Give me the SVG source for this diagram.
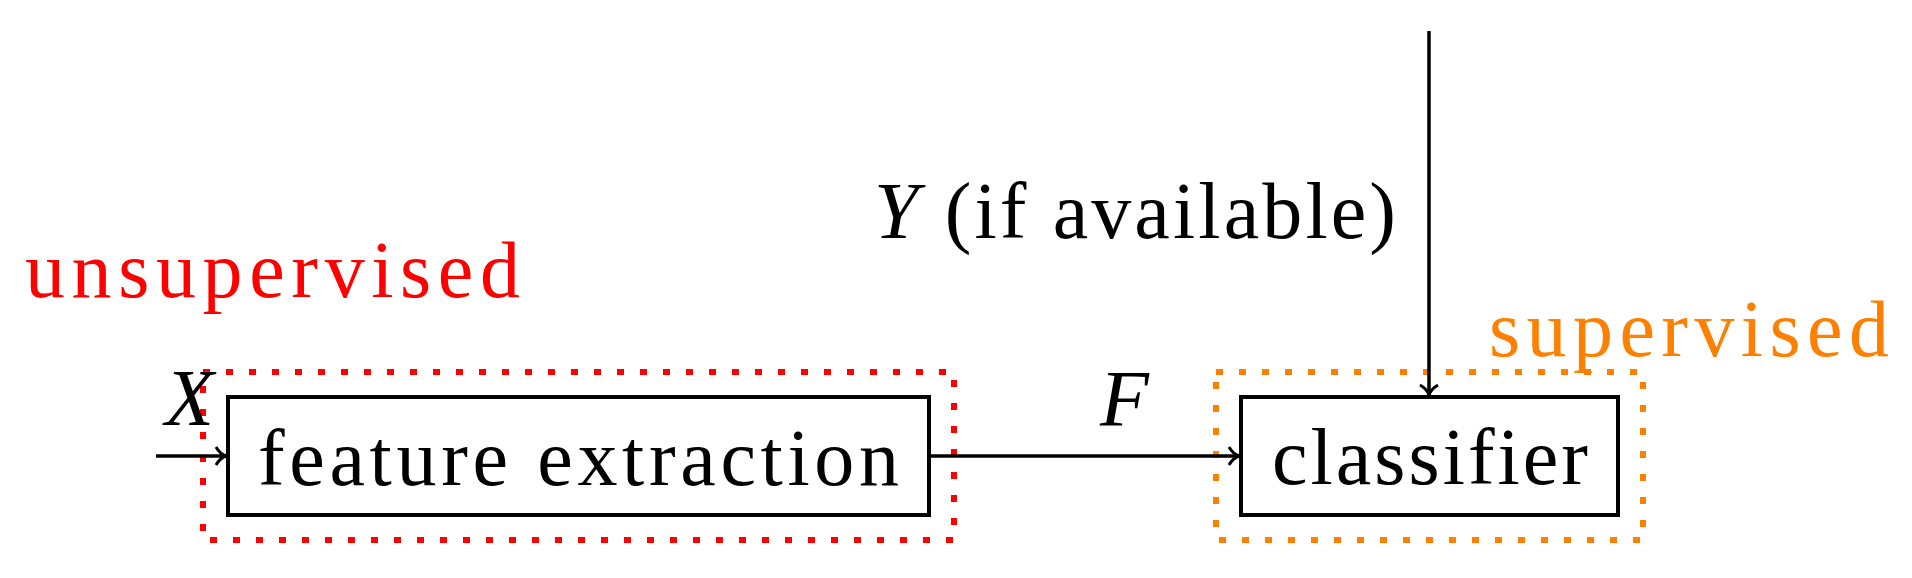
<svg xmlns="http://www.w3.org/2000/svg" width="1912" height="578" viewBox="0 0 1912 578">
<style>
text{font-family:"Liberation Serif","DejaVu Serif",serif;font-size:80px;fill:#000}
.box{fill:#fff;stroke:#000;stroke-width:4}
.dot{fill:none;stroke-width:6;stroke-dasharray:7 16}
.c{fill:none;stroke:#000;stroke-width:3.5}
.it{font-style:italic}
</style>
<defs><marker id="a" markerWidth="14" markerHeight="20" refX="12" refY="10" orient="auto" markerUnits="userSpaceOnUse"><path d="M2 1 Q6 8 12 10 Q6 12 2 19" fill="none" stroke="#000" stroke-width="3"/></marker></defs>
<g id="unsup">
<rect class="dot" x="203" y="372" width="751" height="168" stroke="#f00"/>
<text x="25" y="297" fill="#f00" style="fill:#f00" textLength="495">unsupervised</text>
</g>
<g id="sup">
<rect class="dot" x="1216" y="372" width="427" height="168" stroke="#ff8000"/>
<text x="1489" y="356" style="fill:#ff8000" textLength="400">supervised</text>
</g>
<g id="fe">
<rect class="box" x="228" y="397" width="701" height="118"/>
<text x="258" y="485" textLength="641">feature extraction</text>
</g>
<g id="cl">
<rect class="box" x="1241" y="397" width="377" height="118"/>
<text x="1272" y="484" textLength="316">classifier</text>
</g>
<g id="connectors">
<line class="c" x1="156" y1="456" x2="226" y2="456" marker-end="url(#a)"/>
<line class="c" x1="929" y1="456" x2="1239" y2="456" marker-end="url(#a)"/>
<line class="c" x1="1429" y1="31" x2="1429" y2="395" marker-end="url(#a)"/>
<text class="it" x="165" y="425">X</text>
<text class="it" x="1100" y="426">F</text>
<text x="874" y="238" textLength="522"><tspan class="it">Y</tspan> (if available)</text>
</g>
</svg>
